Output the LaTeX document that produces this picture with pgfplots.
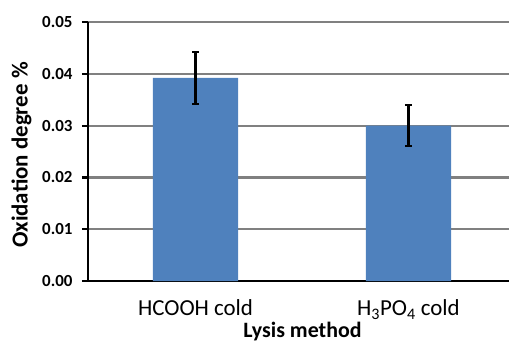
\documentclass[border=0pt]{standalone}
\usepackage{fontspec}
\setmainfont{Carlito}
\usepackage{pgfplots}
\pgfplotsset{compat=1.18}
\definecolor{barblue}{HTML}{4F81BD}
\definecolor{gridgray}{HTML}{808080}
\begin{document}
\begin{tikzpicture}
\useasboundingbox (-88bp,-62bp) rectangle (421bp,281bp);
\begin{axis}[
  scale only axis,
  width=421bp, height=259bp,
  xmin=-0.505, xmax=1.472,
  ymin=0, ymax=0.05,
  ytick={0,0.01,0.02,0.03,0.04,0.05},
  xtick={0,1},
  xticklabels={HCOOH cold, H\textsubscript{3}PO\textsubscript{4} cold},
  axis lines*=left,
  axis line style={-, line width=2.8bp, black},
  ymajorgrids,
  major grid style={line width=2.2bp, gridgray},
  tick align=outside,
  major tick length=6bp,
  ytick style={line width=2.2bp, black},
  xtick style={draw=none},
  /pgf/number format/assume math mode=true,
  yticklabel style={font=\fontsize{17}{17}\selectfont\bfseries, xshift=-6bp, /pgf/number format/.cd, fixed, fixed zerofill, precision=2},
  scaled y ticks=false,
  xticklabel style={font=\fontsize{23}{23}\selectfont, yshift=-9bp},
  ylabel={Oxidation degree \%},
  xlabel={Lysis method},
  ylabel style={font=\fontsize{23}{23}\selectfont\bfseries, at={(axis description cs:0,0.5)}, anchor=north, yshift=80bp, xshift=-3.5bp},
  xlabel style={font=\fontsize{22}{22}\selectfont\bfseries, at={(axis description cs:0.5,0)}, anchor=north, yshift=-38bp, xshift=4bp},
]
\addplot[ybar, bar width=0.4, fill=barblue, draw=none,
  error bars/.cd, y dir=both, y explicit,
  error bar style={draw=black, line width=2.5bp},
  error mark options={rotate=90, draw=black, line width=2.2bp, mark size=3.5bp}]
  table[x=x, y=y, y error=e] {
x y e
0 0.0392 0.0050
1 0.0300 0.0040
};
\end{axis}
\end{tikzpicture}
\end{document}
